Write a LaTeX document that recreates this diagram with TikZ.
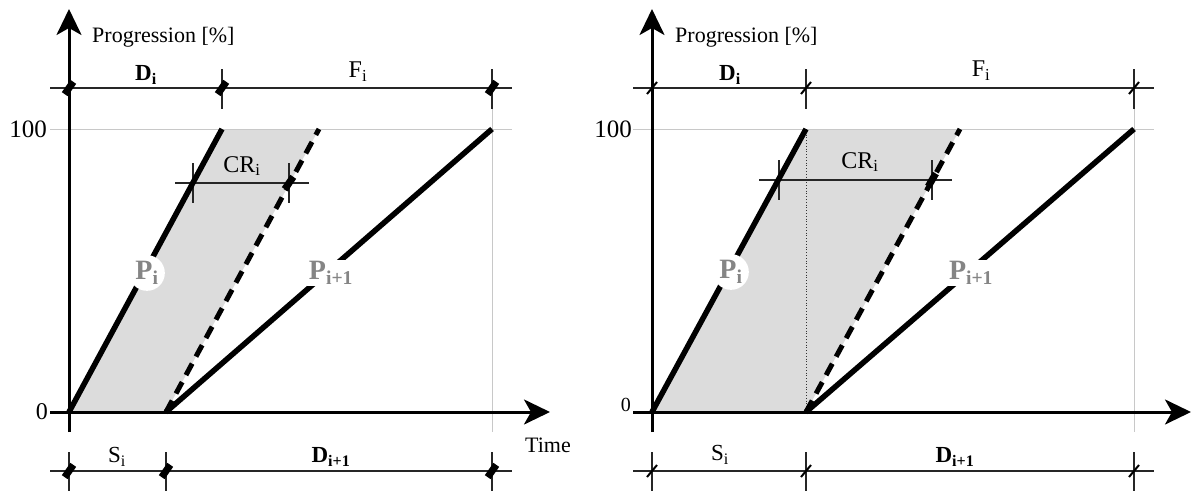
\documentclass[tikz,border=0pt]{standalone}
\usepackage{fontspec}
\setmainfont{Liberation Serif}
\usetikzlibrary{arrows.meta}
\definecolor{fillgray}{HTML}{DCDCDC}
\definecolor{guidegray}{HTML}{C8C8C8}
\definecolor{lblgray}{HTML}{858585}
\newcommand{\fs}[1]{\fontsize{#1}{#1}\selectfont}
\begin{document}
\begin{tikzpicture}[x=1pt,y=-1pt,
  axis/.style={line width=3pt,-{Stealth[length=26pt,width=25pt,inset=7pt]}},
  dim/.style={line width=1.2pt,black!85},
  guide/.style={line width=1pt,guidegray},
  prog/.style={line width=5.5pt},
  progdash/.style={line width=5pt,dash pattern=on 13pt off 8pt},
  diamondmark/.style={rectangle,fill=black,inner sep=0pt,minimum width=15pt,minimum height=7pt,rotate=55},
  slashmark/.style={line width=2pt},
  lbl/.style={inner sep=0pt,font=\fs{22}},
  plbl/.style={text=lblgray,font=\fs{28}\bfseries},
]
\useasboundingbox (0,0) rectangle (1192,491);

% ================= LEFT PANEL =================
\coordinate (O1) at (69,412);
\coordinate (A1) at (222,129);
\coordinate (B1) at (166,412);
\coordinate (C1) at (319,129);
\coordinate (E1) at (492,129);
\fill[fillgray] (O1) -- (A1) -- (C1) -- (B1) -- cycle;
% guides
\coordinate (g1a) at (50,129); \coordinate (g1b) at (512,129);
\draw[guide] (g1a) -- (g1b);
\coordinate (g1c) at (492,108); \coordinate (g1d) at (492,432);
\draw[guide] (g1c) -- (g1d);
% top dimension
\coordinate (td1a) at (50,88); \coordinate (td1b) at (512,88);
\draw[dim] (td1a) -- (td1b);
\coordinate (tt1a) at (222,69); \coordinate (tt1b) at (222,109);
\draw[dim] (tt1a) -- (tt1b);
\coordinate (tt1c) at (492,69); \coordinate (tt1d) at (492,109);
\draw[dim] (tt1c) -- (tt1d);
% bottom dimension
\coordinate (bd1a) at (50,471); \coordinate (bd1b) at (512,471);
\draw[dim] (bd1a) -- (bd1b);
\foreach \xx/\nn in {69/a,166/b,492/c}{
  \coordinate (bt1\nn u) at (\xx,452); \coordinate (bt1\nn d) at (\xx,491);
  \draw[dim] (bt1\nn u) -- (bt1\nn d);
}
% CR dimension
\coordinate (cr1a) at (175,183); \coordinate (cr1b) at (309,183);
\draw[dim] (cr1a) -- (cr1b);
\coordinate (ct1a) at (193,163); \coordinate (ct1b) at (193,203);
\draw[dim] (ct1a) -- (ct1b);
\coordinate (ct1c) at (289,163); \coordinate (ct1d) at (289,203);
\draw[dim] (ct1c) -- (ct1d);
% axes
\coordinate (ya1) at (69,432); \coordinate (yt1) at (69,9);
\draw[axis] (ya1) -- (yt1);
\coordinate (xa1) at (50,412); \coordinate (xt1) at (550,412);
\draw[axis] (xa1) -- (xt1);
% progress lines
\draw[prog] (O1) -- (A1);
\draw[prog] (B1) -- (E1);
\draw[progdash] (B1) -- (C1);
% labels
\node[plbl,fill=white,circle,inner sep=1pt] (pi1) at (147,273) {P\textsubscript{i}};
\node[plbl,fill=white,inner sep=1.5pt] (pj1) at (331,273) {P\textsubscript{i+1}};
\node[lbl,anchor=west] (prg1) at (92,37) {Progression [\%]};
\node[lbl,anchor=east,font=\fs{25}] (h1) at (47,129) {100};
\node[lbl,anchor=east,font=\fs{24}] (z1) at (48,412) {0};
\node[lbl,font=\fs{23}\bfseries] (d1) at (146,75) {D\textsubscript{i}};
\node[lbl,font=\fs{24}] (f1) at (358,72) {F\textsubscript{i}};
\node[lbl,font=\fs{24}] (c1) at (242,166) {CR\textsubscript{i}};
\node[lbl,font=\fs{23}] (s1) at (117,457) {S\textsubscript{i}};
\node[lbl,font=\fs{23}\bfseries] (dd1) at (331,457) {D\textsubscript{i+1}};
\node[lbl] (time) at (548,445) {Time};
% markers
\foreach \p in {(69,88),(222,88),(492,88),(69,471),(166,471),(492,471),(289,183)}{
  \node[diamondmark] at \p {};
}

% ================= RIGHT PANEL =================
\coordinate (O2) at (652,412);
\coordinate (A2) at (806,129);
\coordinate (B2) at (806,412);
\coordinate (C2) at (960,129);
\coordinate (E2) at (1134,129);
\fill[fillgray] (O2) -- (A2) -- (C2) -- (B2) -- cycle;
\coordinate (g2a) at (633,129); \coordinate (g2b) at (1154,129);
\draw[guide] (g2a) -- (g2b);
\coordinate (g2c) at (1134,109); \coordinate (g2d) at (1134,432);
\draw[guide] (g2c) -- (g2d);
\draw[line width=0.8pt,black!80,dotted] (A2) -- (B2);
% top dimension
\coordinate (td2a) at (633,88); \coordinate (td2b) at (1154,88);
\draw[dim] (td2a) -- (td2b);
\coordinate (tt2a) at (806,69); \coordinate (tt2b) at (806,109);
\draw[dim] (tt2a) -- (tt2b);
\coordinate (tt2c) at (1134,69); \coordinate (tt2d) at (1134,109);
\draw[dim] (tt2c) -- (tt2d);
% bottom dimension
\coordinate (bd2a) at (633,471); \coordinate (bd2b) at (1154,471);
\draw[dim] (bd2a) -- (bd2b);
\foreach \xx/\nn in {652/a,806/b,1134/c}{
  \coordinate (bt2\nn u) at (\xx,452); \coordinate (bt2\nn d) at (\xx,491);
  \draw[dim] (bt2\nn u) -- (bt2\nn d);
}
% CR dimension
\coordinate (cr2a) at (759,180); \coordinate (cr2b) at (952,180);
\draw[dim] (cr2a) -- (cr2b);
\coordinate (ct2a) at (779,160); \coordinate (ct2b) at (779,200);
\draw[dim] (ct2a) -- (ct2b);
\coordinate (ct2c) at (932,160); \coordinate (ct2d) at (932,200);
\draw[dim] (ct2c) -- (ct2d);
% axes
\coordinate (ya2) at (652,432); \coordinate (yt2) at (652,9);
\draw[axis] (ya2) -- (yt2);
\coordinate (xa2) at (633,412); \coordinate (xt2) at (1191,412);
\draw[axis] (xa2) -- (xt2);
% progress lines
\draw[prog] (O2) -- (A2);
\draw[prog] (B2) -- (E2);
\draw[progdash] (B2) -- (C2);
% labels
\node[plbl,fill=white,circle,inner sep=1pt] (pi2) at (731,272) {P\textsubscript{i}};
\node[plbl,fill=white,inner sep=1.5pt] (pj2) at (971,273) {P\textsubscript{i+1}};
\node[lbl,anchor=west] (prg2) at (675,37) {Progression [\%]};
\node[lbl,anchor=east,font=\fs{25}] (h2) at (632,129) {100};
\node[lbl,anchor=east,font=\fs{20}] (z2) at (631,405) {0};
\node[lbl,font=\fs{23}\bfseries] (d2) at (730,75) {D\textsubscript{i}};
\node[lbl,font=\fs{24}] (f2) at (981,71) {F\textsubscript{i}};
\node[lbl,font=\fs{24}] (c2) at (860,162) {CR\textsubscript{i}};
\node[lbl,font=\fs{23}] (s2) at (720,455) {S\textsubscript{i}};
\node[lbl,font=\fs{23}\bfseries] (dd2) at (955,457) {D\textsubscript{i+1}};
% markers
\foreach \p in {(652,88),(806,88),(1134,88),(652,471),(806,471),(1134,471)}{
  \draw[slashmark] \p ++(-5,6) -- ++(10,-12);
}
\node[diamondmark,rotate=5] at (932,180) {};
\end{tikzpicture}
\end{document}
